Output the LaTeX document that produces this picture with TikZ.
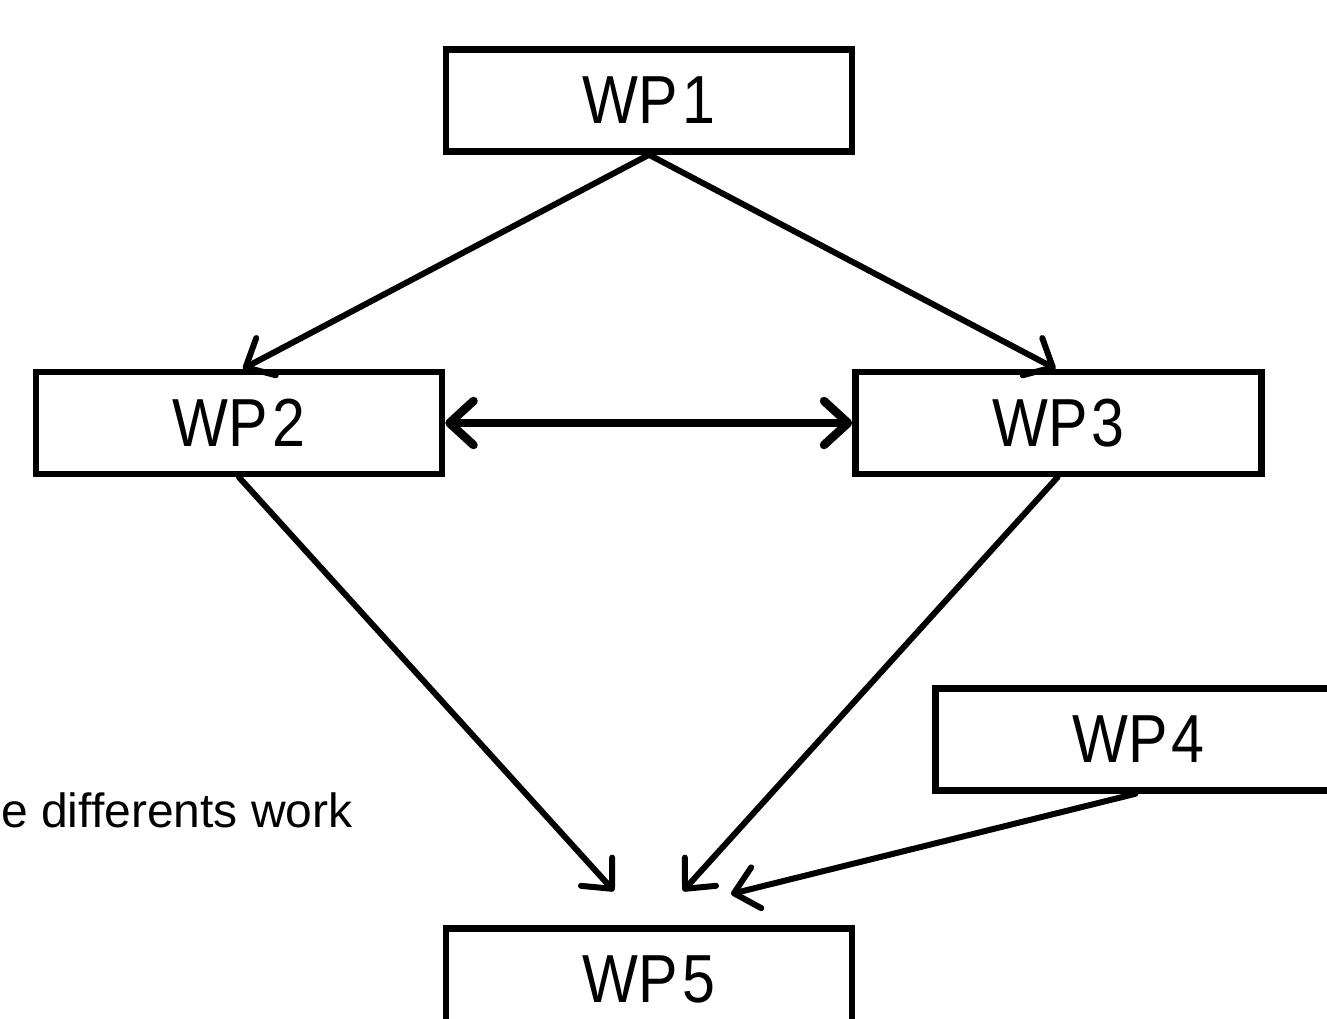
\documentclass[tikz,border=0pt]{standalone}
\usepackage{fontspec}
\setmainfont{Liberation Sans}
\newfontfamily\narrowfont[FakeStretch=0.87]{Liberation Sans}
\usetikzlibrary{arrows.meta}
\begin{document}
\begin{tikzpicture}[x=1pt,y=-1pt,
  wpbox/.style={draw=black, line width=6.5pt, fill=white, minimum width=406pt, minimum height=102pt, inner sep=0pt,
    font=\narrowfont\fontsize{68}{68}\selectfont, execute at begin node={\spaceskip=4pt\relax}},
  conn/.style={line width=6pt, line cap=round, -{Straight Barb[length=23pt,width=42pt,line width=0pt 1, round]}},
  dconn/.style={line width=8.5pt, {Straight Barb[length=24pt,width=44pt,line width=0pt 1, round]}-{Straight Barb[length=24pt,width=44pt,line width=0pt 1, round]}}]
\useasboundingbox (0,0) rectangle (1327,1019);
\clip (0,0) rectangle (1327,1019);
\fill[white] (0,0) rectangle (1327,1019);

\node[wpbox] (WP1) at (649,100.5) {WP 1};
\node[wpbox] (WP2) at (239,423) {WP 2};
\node[wpbox] (WP3) at (1058.5,423) {WP 3};
\node[wpbox] (WP4) at (1138.5,739.5) {WP 4};
\node[wpbox] (WP5) at (649,979.5) {WP 5};

\node[anchor=base west, inner sep=0pt, font=\fontsize{48}{48}\selectfont] (txt) at (1,827) {e differents work};

\coordinate (in5a) at (614,891);
\coordinate (in5b) at (683,891);
\coordinate (in5c) at (731,894);

\draw[conn] (WP1.south) -- ([xshift=4pt]WP2.north);
\draw[conn] (WP1.south) -- ([xshift=-3pt]WP3.north);
\draw[dconn] (WP2.east) -- (WP3.west);
\draw[conn] (WP2.south) -- (in5a);
\draw[conn] ([xshift=-1pt]WP3.south) -- (in5b);
\draw[conn] ([xshift=-3pt]WP4.south) -- (in5c);
\end{tikzpicture}
\end{document}
